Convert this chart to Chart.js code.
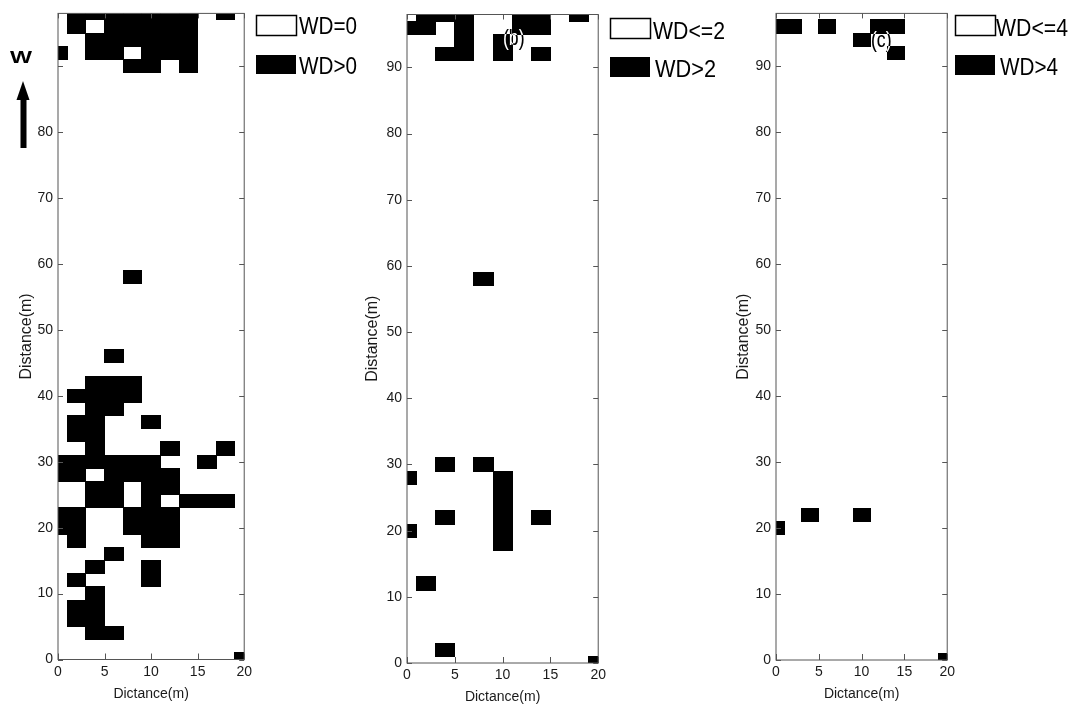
<!DOCTYPE html>
<html>
<head>
<meta charset="utf-8">
<script src="https://cdn.jsdelivr.net/npm/chart.js@4.4.1/dist/chart.umd.min.js"></script>
<style>
  html, body { margin: 0; padding: 0; background: #fff; }
  body { width: 1069px; height: 707px; position: relative; overflow: hidden; }
  canvas { position: absolute; top: 0; }
  svg { position: absolute; left: 0; top: 0; }
  .tag { position: absolute; color: #fff; mix-blend-mode: difference; transform-origin: 0 0; transform: scaleX(0.8);
         font: 22px "Liberation Sans", Arial, sans-serif; line-height: 22px; }
</style>
</head>
<body>
<canvas id="wdA" width="256" height="707" style="left:0px"></canvas>
<canvas id="wdB" width="270" height="707" style="left:340px"></canvas>
<canvas id="wdC" width="247" height="707" style="left:712px"></canvas>

<svg width="1069" height="707" font-family="'Liberation Sans',Arial,sans-serif" font-size="24">
  <!-- north arrow -->
  <text x="10" y="63" font-weight="bold" font-size="17" textLength="22" lengthAdjust="spacingAndGlyphs">W</text>
  <polygon points="23,81 16.5,100 29.5,100" fill="#000"/>
  <rect x="20.5" y="99" width="6" height="49" fill="#000"/>
  <!-- legends -->
  <rect x="256.5" y="15.5" width="40" height="20" fill="#fff" stroke="#000" stroke-width="1.5"/>
  <text x="299" y="34" textLength="58" lengthAdjust="spacingAndGlyphs">WD=0</text>
  <rect x="256" y="55" width="40" height="19" fill="#000"/>
  <text x="299" y="74" textLength="58" lengthAdjust="spacingAndGlyphs">WD&gt;0</text>

  <rect x="610.5" y="18.5" width="40" height="20" fill="#fff" stroke="#000" stroke-width="1.5"/>
  <text x="653" y="39" textLength="72" lengthAdjust="spacingAndGlyphs">WD&lt;=2</text>
  <rect x="610" y="57" width="40" height="20" fill="#000"/>
  <text x="655" y="77" textLength="61" lengthAdjust="spacingAndGlyphs">WD&gt;2</text>

  <rect x="955.5" y="15.5" width="40" height="20" fill="#fff" stroke="#000" stroke-width="1.5"/>
  <text x="996" y="36" textLength="72" lengthAdjust="spacingAndGlyphs">WD&lt;=4</text>
  <rect x="955" y="55" width="40" height="20" fill="#000"/>
  <text x="1000" y="75" textLength="58" lengthAdjust="spacingAndGlyphs">WD&gt;4</text>
</svg>
<div class="tag" style="left:503px;top:27px">(b)</div>
<div class="tag" style="left:871px;top:29px">(c)</div>

<script>
"use strict";
// axis ticks
const xTicks = [0, 5, 10, 15, 20];
const yTicks = [0, 10, 20, 30, 40, 50, 60, 70, 80, 90];

// black cells [x, y] on the 2 m grid, WD>0
const cellsA = [
  [20, 0], [4, 4], [6, 4], [2, 6], [4, 6], [2, 8], [4, 8], [4, 10],
  [2, 12], [10, 12], [4, 14], [10, 14], [6, 16], [2, 18], [10, 18], [12, 18],
  [0, 20], [2, 20], [8, 20], [10, 20], [12, 20],
  [0, 22], [2, 22], [8, 22], [10, 22], [12, 22],
  [4, 24], [6, 24], [10, 24], [14, 24], [16, 24], [18, 24],
  [4, 26], [6, 26], [10, 26], [12, 26],
  [0, 28], [2, 28], [6, 28], [8, 28], [10, 28], [12, 28],
  [0, 30], [2, 30], [4, 30], [6, 30], [8, 30], [10, 30], [16, 30],
  [4, 32], [12, 32], [18, 32], [2, 34], [4, 34], [2, 36], [4, 36], [10, 36],
  [4, 38], [6, 38], [2, 40], [4, 40], [6, 40], [8, 40], [4, 42], [6, 42], [8, 42],
  [6, 46], [8, 58],
  [8, 90], [10, 90], [14, 90],
  [0, 92], [4, 92], [6, 92], [10, 92], [12, 92], [14, 92],
  [4, 94], [6, 94], [8, 94], [10, 94], [12, 94], [14, 94],
  [2, 96], [6, 96], [8, 96], [10, 96], [12, 96], [14, 96],
  [2, 98], [4, 98], [6, 98], [8, 98], [10, 98], [12, 98], [14, 98], [18, 98]
];

// WD>2
const cellsB = [
  [20, 0], [4, 2], [2, 12], [10, 18], [0, 20], [10, 20],
  [4, 22], [10, 22], [14, 22], [10, 24], [10, 26], [0, 28], [10, 28],
  [4, 30], [8, 30], [8, 58],
  [4, 92], [6, 92], [10, 92], [14, 92], [6, 94], [10, 94],
  [0, 96], [2, 96], [6, 96], [12, 96], [14, 96],
  [2, 98], [4, 98], [6, 98], [12, 98], [14, 98], [18, 98]
];

// WD>4
const cellsC = [
  [20, 0], [0, 20], [4, 22], [10, 22],
  [14, 92], [10, 94], [0, 96], [2, 96], [6, 96], [12, 96], [14, 96]
];

const labelColor = "#1a1a1a";
const sans = "'Liberation Sans', Arial, sans-serif";

// cells, frame and inward ticks drawn through the chart scales
const wdCells = {
  id: "wdCells",
  afterDatasetsDraw(chart) {
    const { ctx, chartArea: a, scales: { x, y } } = chart;
    ctx.save();
    ctx.beginPath();
    ctx.rect(a.left, a.top, a.right - a.left, a.bottom - a.top);
    ctx.clip();
    ctx.fillStyle = "#000";
    chart.data.datasets.forEach(ds => {
      ds.data.forEach(p => {
        const x1 = Math.floor(x.getPixelForValue(p.x - 1));
        const x2 = Math.ceil(x.getPixelForValue(p.x + 1));
        const y1 = Math.floor(y.getPixelForValue(p.y + 1));
        const y2 = Math.ceil(y.getPixelForValue(p.y - 1));
        ctx.fillRect(x1, y1, x2 - x1, y2 - y1);
      });
    });
    ctx.restore();
  },
  afterDraw(chart) {
    const { ctx, chartArea: a, scales: { x, y } } = chart;
    ctx.save();
    ctx.strokeStyle = "#555";
    ctx.lineWidth = 1;
    ctx.strokeRect(a.left, a.top, a.right - a.left, a.bottom - a.top);
    ctx.beginPath();
    x.ticks.forEach(t => {
      const px = Math.round(x.getPixelForValue(t.value)) + 0.5;
      ctx.moveTo(px, a.bottom); ctx.lineTo(px, a.bottom - 6);
      ctx.moveTo(px, a.top); ctx.lineTo(px, a.top + 5);
    });
    y.ticks.forEach(t => {
      const py = Math.round(y.getPixelForValue(t.value)) + 0.5;
      ctx.moveTo(a.left, py); ctx.lineTo(a.left + 5, py);
      ctx.moveTo(a.right, py); ctx.lineTo(a.right - 5, py);
    });
    ctx.stroke();
    ctx.restore();
  }
};

function drawMap(id, cells, label, p) {
  const ctx = document.getElementById(id).getContext("2d");
  return new Chart(ctx, {
    type: "scatter",
    data: {
      datasets: [{
        label: label,
        data: cells.map(c => ({ x: c[0], y: c[1] })),
        pointRadius: 0,
        pointHoverRadius: 0
      }]
    },
    options: {
      responsive: false,
      animation: false,
      events: [],
      layout: { padding: { top: p.top, right: p.right, left: 0, bottom: 0 } },
      plugins: { legend: { display: false }, tooltip: { enabled: false } },
      scales: {
        x: {
          type: "linear", min: 0, max: 20,
          afterBuildTicks: s => { s.ticks = xTicks.map(v => ({ value: v })); },
          afterFit: s => { s.height = p.xH; },
          grid: { display: false, drawTicks: false },
          border: { display: false },
          ticks: { padding: 4, color: labelColor, autoSkip: false, maxRotation: 0,
                   font: { family: sans, size: 14 } },
          title: { display: true, text: "Dictance(m)", color: labelColor,
                   font: { family: sans, size: 14 }, padding: { top: 0, bottom: p.xTitle } }
        },
        y: {
          type: "linear", min: 0, max: 98,
          afterBuildTicks: s => { s.ticks = yTicks.map(v => ({ value: v })); },
          afterFit: s => { s.width = p.yW; },
          grid: { display: false, drawTicks: false },
          border: { display: false },
          ticks: { padding: 5, color: labelColor, autoSkip: false,
                   font: { family: sans, size: 14 },
                   callback: v => (p.hide.includes(v) ? "" : v) },
          title: { display: true, text: "Distance(m)", color: labelColor,
                   font: { family: sans, size: 16 },
                   padding: { top: p.yTitle, bottom: 0 } }
        }
      }
    },
    plugins: [wdCells]
  });
}

drawMap("wdA", cellsA, "WD>0", { top: 12, right: 8.5, yW: 58, xH: 47.5, yTitle: 17, xTitle: 4.5, hide: [90] });
drawMap("wdB", cellsB, "WD>2", { top: 14.5, right: 8, yW: 67, xH: 44, yTitle: 23, xTitle: 1.5, hide: [] });
drawMap("wdC", cellsC, "WD>4", { top: 12, right: 8.5, yW: 64, xH: 47, yTitle: 22, xTitle: 4.5, hide: [] });
</script>
</body>
</html>
